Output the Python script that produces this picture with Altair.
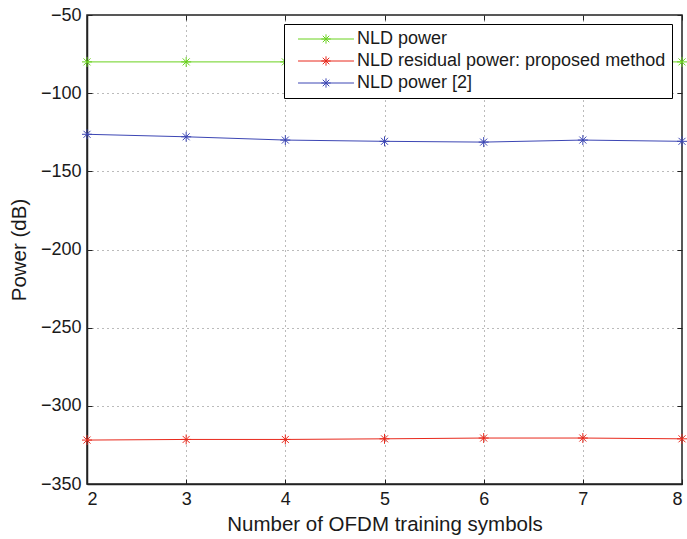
import altair as alt
import pandas as pd

# Number of OFDM training symbols
symbols = [2, 3, 4, 5, 6, 7, 8]

# Power levels (dB) for each series
nld_power = [-80.0, -80.0, -80.0, -80.0, -80.0, -80.0, -80.0]
residual_proposed = [-321.9, -321.5, -321.5, -321.1, -320.6, -320.6, -321.1]
nld_power_ref2 = [-126.3, -127.9, -130.0, -130.8, -131.3, -130.0, -130.8]

series_names = ["NLD power", "NLD residual power: proposed method", "NLD power [2]"]
series_colors = ["#6ad21e", "#e8291c", "#3c46b4"]

y_ticks = [-350, -300, -250, -200, -150, -100, -50]

rows = []
for name, vals in zip(series_names, [nld_power, residual_proposed, nld_power_ref2]):
    for s, v in zip(symbols, vals):
        rows.append({"symbols": s, "power": v, "series": name})
df = pd.DataFrame(rows)

W, H = 595, 469
FONT = "Liberation Sans"
TEXT = "#1a1a1a"
STAR = "M-1,0L1,0M0,-1L0,1M-0.7,-0.7L0.7,0.7M-0.7,0.7L0.7,-0.7"
LEGEND_SYMBOL = ("M-6,0L6,0M-1,0L1,0M0,-1L0,1"
                 "M-0.7,-0.7L0.7,0.7M-0.7,0.7L0.7,-0.7")

x_scale = alt.Scale(domain=[2, 8], nice=False, zero=False)
y_scale = alt.Scale(domain=[-350, -50], nice=False, zero=False)


def tick_axis(orient, offset, values):
    # tick-only axis placed on the opposite edge so its ticks point inward
    return alt.Axis(orient=orient, offset=offset, values=values, labels=False,
                    domain=False, grid=False, ticks=True, tickSize=5,
                    tickColor="#222222", tickWidth=1, title=None)


color_enc = alt.Color(
    "series:N",
    scale=alt.Scale(domain=series_names, range=series_colors),
    legend=alt.Legend(
        title=None,
        orient="none",
        legendX=197,
        legendY=9,
        symbolType=LEGEND_SYMBOL,
        symbolSize=87,
        symbolStrokeWidth=1,
        symbolOffset=27,
        labelOffset=22,
        labelFont=FONT,
        labelFontSize=18,
        labelColor=TEXT,
        labelLimit=500,
        rowPadding=4,
        padding=6,
        strokeColor="black",
        fillColor="white",
    ),
)

lines = alt.Chart(df).mark_line(strokeWidth=1).encode(
    x=alt.X("symbols:Q", scale=x_scale,
            axis=alt.Axis(values=symbols, format="d",
                          title="Number of OFDM training symbols",
                          ticks=False, grid=True)),
    y=alt.Y("power:Q", scale=y_scale,
            axis=alt.Axis(values=y_ticks, title="Power (dB)",
                          ticks=False, grid=True)),
    color=color_enc,
    detail="series:N",
)

points = alt.Chart(df).mark_point(
    shape=STAR, size=100, filled=False, strokeWidth=1, opacity=1
).encode(
    x=alt.X("symbols:Q", scale=x_scale, axis=tick_axis("top", -H, symbols)),
    y=alt.Y("power:Q", scale=y_scale, axis=tick_axis("right", -W, y_ticks)),
    color=color_enc,
)

frame_ticks = alt.Chart(df).mark_point(opacity=0).encode(
    x=alt.X("symbols:Q", scale=x_scale, axis=tick_axis("bottom", -H, symbols)),
    y=alt.Y("power:Q", scale=y_scale, axis=tick_axis("left", -W, y_ticks)),
)

chart = (
    alt.layer(lines, points, frame_ticks)
    .resolve_axis(x="independent", y="independent")
    .properties(
        width=W,
        height=H,
        autosize=alt.AutoSizeParams(type="none"),
        padding={"left": 87, "top": 15, "right": 5, "bottom": 55},
        background="white",
    )
    .configure_view(stroke="#222222", strokeWidth=1.5)
    .configure_axis(
        labelFont=FONT,
        labelFontSize=18,
        labelColor=TEXT,
        titleFont=FONT,
        titleFontSize=20.5,
        titleFontWeight="normal",
        titleColor=TEXT,
        domainColor="#222222",
        domainWidth=1.5,
        labelPadding=6,
        gridColor="#555555",
        gridDash=[1, 4],
        gridWidth=1,
        gridOpacity=0.8,
    )
    .configure_axisX(titlePadding=6)
    .configure_axisY(titlePadding=11)
)

chart.save("out.html", embed_options={"renderer": "svg", "actions": False})
